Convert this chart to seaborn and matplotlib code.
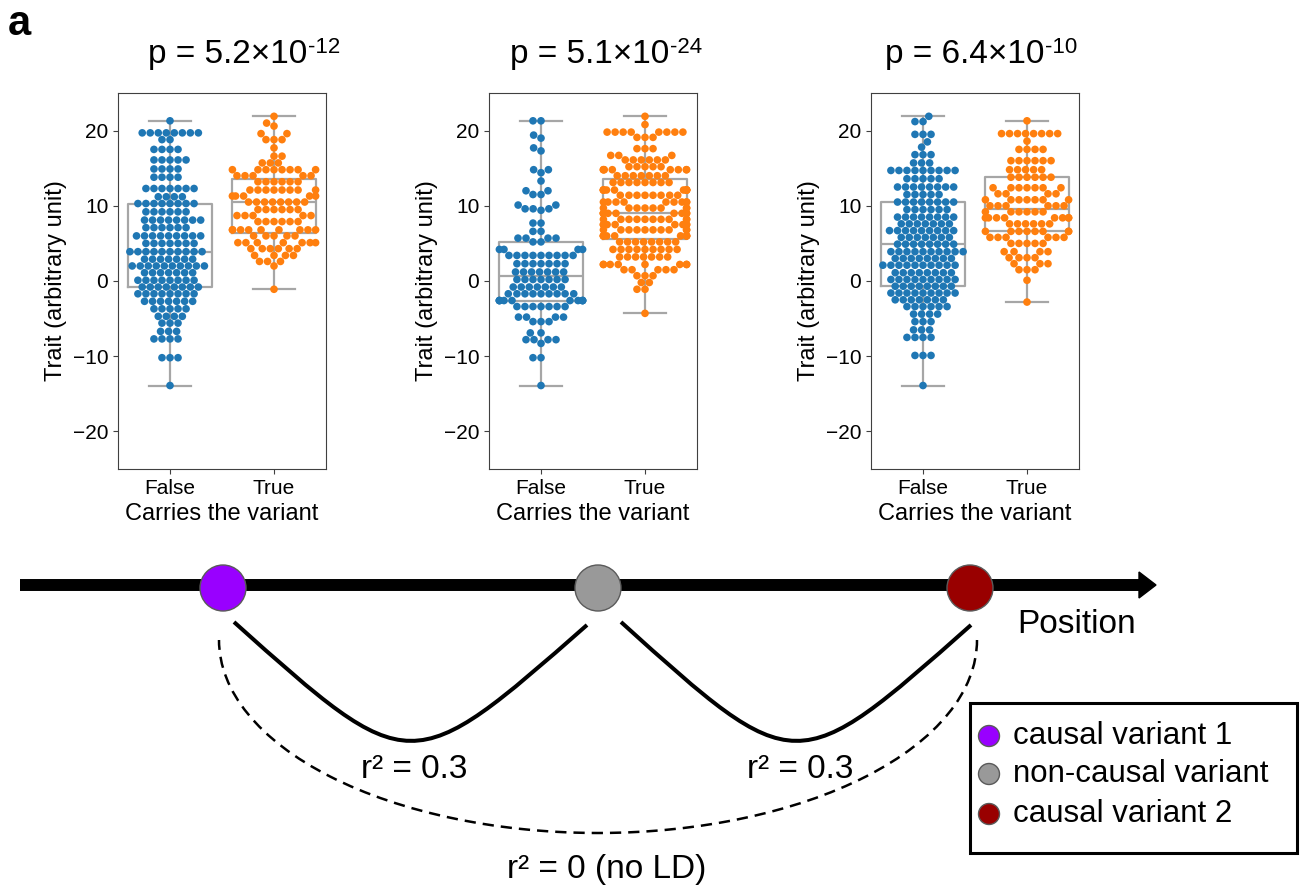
import numpy as np
import pandas as pd
import matplotlib
matplotlib.use("Agg")
import matplotlib.pyplot as plt
import seaborn as sns
from matplotlib.patches import Circle, Polygon, Rectangle, Arc, PathPatch
from matplotlib.path import Path

plt.rcParams["font.family"] = ["Liberation Sans", "DejaVu Sans"]

p1_false_levels = [21.3, 19.7, 18.8, 17.5, 16.1, 14.9, 13.8, 12.3, 11.2, 10.3, 9.2, 8.1, 7.1, 6.0, 5.0,
                   3.9, 2.9, 2.0, 1.1, 0.1, -0.8, -1.7, -2.7, -3.7, -4.7, -5.6, -6.7, -7.7, -10.2, -13.9]
p1_false_counts = [1, 8, 2, 4, 5, 4, 4, 7, 4, 8, 6, 8, 6, 9, 7,
                   10, 7, 10, 7, 8, 8, 8, 7, 5, 4, 3, 3, 4, 3, 1]
p1_true_levels = [21.9, 21.0, 20.6, 19.6, 18.8, 17.7, 16.6, 15.7, 14.8, 14.0, 13.2, 12.1, 11.3, 10.5, 9.5,
                  8.7, 7.9, 6.8, 6.0, 5.1, 4.3, 3.4, 2.6, 2.0, -1.1]
p1_true_counts = [1, 1, 1, 2, 3, 1, 2, 3, 8, 5, 6, 8, 5, 8, 6,
                  5, 6, 9, 5, 7, 6, 4, 3, 1, 1]

p2_false_levels = [21.3, 19.4, 19.0, 17.7, 17.3, 14.8, 14.4, 13.3, 12.0, 11.5, 10.1, 9.6, 9.4, 7.7, 6.6,
                   5.7, 5.2, 4.2, 3.4, 2.3, 1.2, 0.2, -0.8, -1.7, -2.6, -3.4, -4.8, -5.4, -6.9, -7.8,
                   -8.3, -10.2, -13.9]
p2_false_counts = [2, 1, 1, 1, 1, 2, 1, 1, 2, 2, 2, 3, 1, 2, 2,
                   4, 2, 4, 9, 7, 7, 7, 7, 9, 10, 7, 4, 3, 2, 4,
                   1, 2, 1]
p2_true_levels = [21.9, 20.8, 19.8, 19.1, 17.6, 16.7, 16.1, 15.2, 14.8, 14.0, 13.1, 12.1, 11.4, 10.5, 9.7,
                  9.0, 8.2, 7.5, 6.8, 6.0, 5.2, 4.2, 3.2, 2.2, 1.5, 0.7, -0.2, -1.1, -4.3]
p2_true_counts = [1, 1, 8, 3, 3, 3, 6, 5, 8, 7, 8, 10, 8, 9, 8,
                  9, 10, 8, 10, 9, 8, 9, 7, 8, 5, 3, 2, 2, 1]

p3_false_levels = [21.9, 21.2, 19.5, 18.5, 17.8, 16.8, 15.7, 14.7, 13.6, 12.5, 11.5, 10.5, 9.5, 8.5, 7.6,
                   6.7, 5.8, 4.9, 3.9, 3.0, 2.1, 1.1, 0.2, -0.7, -1.6, -2.5, -3.4, -4.4, -5.4, -6.5,
                   -7.5, -9.9, -13.9]
p3_false_counts = [1, 2, 3, 1, 1, 3, 3, 9, 5, 8, 5, 8, 6, 8, 7,
                   9, 7, 8, 10, 8, 10, 8, 9, 8, 9, 7, 6, 4, 3, 3,
                   4, 3, 1]
p3_true_levels = [21.3, 19.6, 18.6, 17.5, 16.0, 14.8, 13.8, 12.4, 11.6, 10.8, 10.0, 9.2, 8.4, 7.6, 6.6,
                  5.8, 5.0, 3.9, 3.1, 2.3, 1.5, 0.1, -2.8]
p3_true_counts = [1, 8, 1, 4, 6, 5, 6, 7, 4, 7, 6, 6, 8, 6, 8,
                  6, 5, 4, 4, 3, 3, 1, 1]

p_mantissa = [5.2, 5.1, 6.4]
p_exponent = [-12, -24, -10]

categories = ["False", "True"]
variant_names = ["causal variant 1", "non-causal variant", "causal variant 2"]
variant_colors = ["#9900ff", "#999999", "#990000"]
variant_pos = [223, 598, 970]
ld_labels = ["r\u00b2 = 0.3", "r\u00b2 = 0.3", "r\u00b2 = 0 (no LD)"]

W, H = 1307, 889
palette = {"False": "#1f77b4", "True": "#ff7f0e"}


def panel_frame(fl, fc, tl, tc):
    vals = np.concatenate([np.repeat(fl, fc), np.repeat(tl, tc)])
    carrier = ["False"] * int(np.sum(fc)) + ["True"] * int(np.sum(tc))
    return pd.DataFrame({"carrier": carrier, "trait": vals})


panels = [
    panel_frame(p1_false_levels, p1_false_counts, p1_true_levels, p1_true_counts),
    panel_frame(p2_false_levels, p2_false_counts, p2_true_levels, p2_true_counts),
    panel_frame(p3_false_levels, p3_false_counts, p3_true_levels, p3_true_counts),
]

fig = plt.figure(figsize=(W / 100, H / 100), dpi=100)

panel_left = [118, 489, 871]
title_left = [148, 510, 885]
for i, df in enumerate(panels):
    ax = fig.add_axes([panel_left[i] / W, 1 - 469 / H, 208 / W, 376 / H])
    sns.boxplot(data=df, x="carrier", y="trait", order=categories, fill=False,
                color="#a6a6a6", linewidth=1.6, showfliers=False, whis=np.inf, ax=ax)
    sns.swarmplot(data=df, x="carrier", y="trait", hue="carrier", order=categories,
                  hue_order=categories, palette=palette, size=5.5, legend=False,
                  warn_thresh=1, ax=ax)
    ax.set_ylim(-25, 25)
    ax.set_yticks([-20, -10, 0, 10, 20])
    ax.set_xlabel("Carries the variant", fontsize=17)
    ax.set_ylabel("Trait (arbitrary unit)", fontsize=17)
    ax.tick_params(labelsize=15, color="0.25")
    for sp in ax.spines.values():
        sp.set_color("0.25")

    # p-value title with a raised exponent
    t = fig.text(title_left[i] / W, 1 - 63 / H, f"p = {p_mantissa[i]}\u00d710",
                 fontsize=24, ha="left", va="baseline")
    ax.annotate(str(p_exponent[i]), xy=(1, 0), xycoords=t, xytext=(0.5, 12.5),
                textcoords="offset points", fontsize=16, ha="left", va="baseline",
                annotation_clip=False)

fig.text(8 / W, 1 - 35 / H, "a", fontsize=30, fontweight="bold", va="baseline")

# ---- position diagram ----
dax = fig.add_axes([0, 0, 1, 1])
dax.set_xlim(0, W)
dax.set_ylim(H, 0)
dax.axis("off")

dax.plot([20, 1141], [585, 585], color="black", lw=8.6, solid_capstyle="butt", zorder=1)
dax.add_patch(Polygon([(1139, 572), (1139, 598), (1156, 585)], closed=True,
                      fc="black", ec="black", zorder=1))
dax.text(1017, 633, "Position", fontsize=24, va="baseline")

for x, c in zip(variant_pos, variant_colors):
    dax.add_patch(Circle((x, 588), 23, fc=c, ec="#5a5a5a", lw=1, zorder=3))

# LD links between neighbouring variants
arc_ends = [(234, 587), (621, 971)]
for (xa, xb), lab in zip(arc_ends, ld_labels[:2]):
    mid = (xa + xb) / 2
    path = Path([(xa, 622), (mid, 780), (mid, 780), (xb, 625)],
                [Path.MOVETO, Path.CURVE4, Path.CURVE4, Path.CURVE4])
    dax.add_patch(PathPatch(path, fc="none", ec="black", lw=2.9, capstyle="butt"))
    dax.text(mid + 4, 778, lab, fontsize=24, ha="center", va="baseline")

dax.add_patch(Arc((598, 640), 758, 386, theta1=0, theta2=180, ec="black", lw=1.8,
                  ls=(0, (4.5, 2.8))))
dax.text(607, 878, ld_labels[2], fontsize=24, ha="center", va="baseline")

# legend box
dax.add_patch(Rectangle((970, 703), 327, 150, fill=False, ec="black", lw=2.2))
for k, (name, c) in enumerate(zip(variant_names, variant_colors)):
    yb = [744, 782, 822][k]
    dax.add_patch(Circle((989, yb - 8), 10.5, fc=c, ec="#5a5a5a", lw=1))
    dax.text(1013, yb, name, fontsize=22.5, va="baseline")

fig.savefig("out.png", dpi=100)
